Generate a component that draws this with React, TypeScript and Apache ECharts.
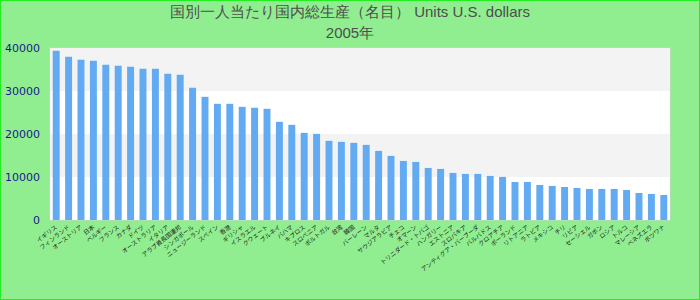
import React, { useEffect, useRef } from "react";
import * as echarts from "echarts";

const titleLine1 = "国別一人当たり国内総生産（名目） Units U.S. dollars";
const titleLine2 = "2005年";

const countries = [
  "イギリス", "フィンランド", "オーストリア", "日本", "ベルギー", "フランス", "カナダ", "ドイツ",
  "オーストラリア", "イタリア", "アラブ首長国連邦", "シンガポール", "ニュージーランド", "スペイン", "香港",
  "ギリシャ", "イスラエル", "クウェート", "ブルネイ", "バハマ", "キプロス", "スロベニア", "ポルトガル",
  "台湾", "韓国", "バーレーン", "マルタ", "サウジアラビア", "チェコ", "オマーン", "トリニダード・トバゴ",
  "ハンガリー", "エストニア", "スロバキア", "アンティグア・バーブーダ", "バルバドス", "クロアチア",
  "ポーランド", "リトアニア", "ラトビア", "メキシコ", "チリ", "リビア", "セーシェル", "ガボン", "ロシア",
  "トルコ", "マレーシア", "ベネズエラ", "ボツワナ",
];

const values = [
  39370, 37970, 37280, 37040, 36100, 35870, 35640, 35180, 35180, 34010,
  33780, 30750, 28650, 27020, 27020, 26320, 26090, 25860, 22830, 22130,
  20270, 20030, 18400, 18170, 17940, 17470, 16070, 14910, 13740, 13510,
  12110, 11880, 10950, 10720, 10720, 10250, 10020, 8850, 8850, 8150,
  7920, 7690, 7460, 7220, 7220, 7220, 6990, 6290, 6060, 5820,
];

const yTicks = { min: 0, max: 40000, interval: 10000 };

export default function App() {
  const ref = useRef<HTMLDivElement>(null);
  useEffect(() => {
    document.body.style.margin = "0";
    const chart = echarts.init(ref.current!, undefined, { renderer: "svg" });
    chart.setOption({
      animation: false,
      backgroundColor: "#90ee90",
      title: {
        text: titleLine1 + "\n" + titleLine2,
        left: "center",
        top: -5,
        textStyle: {
          color: "#4d4d4d",
          fontSize: 15,
          fontWeight: "normal",
          fontFamily: "Liberation Sans, Arial, sans-serif",
          lineHeight: 21,
        },
      },
      grid: {
        left: 49,
        right: 29,
        top: 47,
        bottom: 79,
        show: true,
        backgroundColor: "#ffffff",
        borderColor: "#d0d0d0",
        borderWidth: 1,
      },
      xAxis: {
        type: "category",
        data: countries,
        axisLine: { show: false },
        axisTick: { show: false },
        axisLabel: {
          interval: 0,
          rotate: 38,
          fontSize: 6,
          color: "#222",
          margin: 6,
          fontFamily: "Noto Sans CJK JP, sans-serif",
        },
      },
      yAxis: {
        type: "value",
        min: yTicks.min,
        max: yTicks.max,
        interval: yTicks.interval,
        axisLine: { show: false },
        axisTick: { show: false },
        splitLine: { show: false },
        splitArea: { show: true, areaStyle: { color: ["#ffffff", "#f3f3f3"] } },
        axisLabel: {
          color: "#1a1a8c",
          fontSize: 11,
          margin: 10,
          fontFamily: "DejaVu Sans, sans-serif",
          formatter: (v: number) => String(v),
        },
      },
      series: [
        {
          type: "bar",
          data: values,
          barWidth: "56%",
          itemStyle: { color: "#62aaf2" },
        },
      ],
    });
    return () => chart.dispose();
  }, []);
  return (
    <div
      style={{
        position: "absolute",
        left: 0,
        top: 0,
        width: 700,
        height: 300,
        boxSizing: "border-box",
        border: "1px solid #22ee22",
      }}
    >
      <div ref={ref} style={{ width: 698, height: 298 }} />
    </div>
  );
}
